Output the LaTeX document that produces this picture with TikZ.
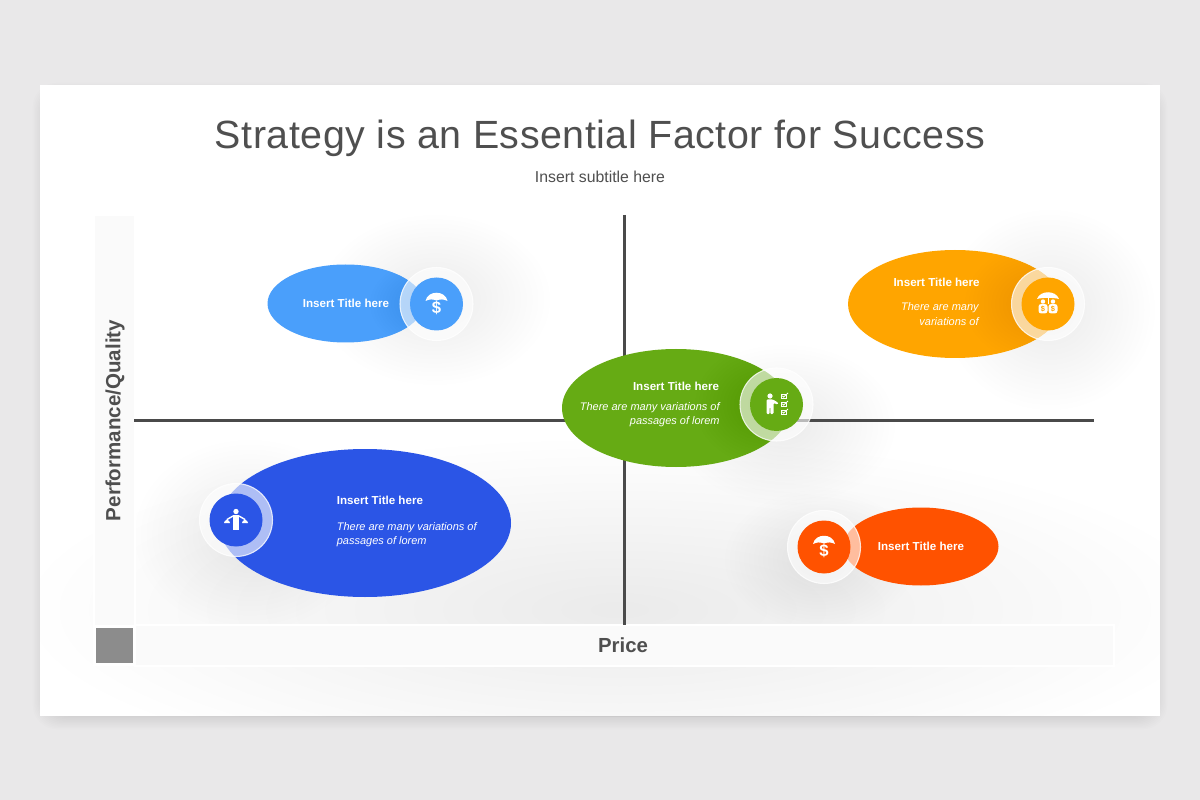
\documentclass[tikz,border=0pt]{standalone}
\usepackage{fontspec}
\setmainfont{Liberation Sans}
\newfontfamily\titlefont[LetterSpace=1.4]{Liberation Sans}
\definecolor{pagebg}{HTML}{E9E8E9}
\definecolor{ink}{HTML}{4F4F4F}
\definecolor{axisline}{HTML}{4A4A4A}
\definecolor{barfill}{HTML}{FAFAFA}
\definecolor{squarefill}{HTML}{8C8C8C}
\definecolor{cblue}{HTML}{4A9FFB}
\definecolor{corange}{HTML}{FFA500}
\definecolor{cgreen}{HTML}{66AB14}
\definecolor{croyal}{HTML}{2B55E6}
\definecolor{cred}{HTML}{FF5200}
\tikzset{
  x=0.02cm,y=-0.02cm,
  whitetext/.style={text=white,font=\fontsize{6.6}{9}\selectfont\bfseries,inner sep=0pt},
  italictext/.style={text=white,font=\fontsize{6.25}{8.1}\selectfont\itshape,inner sep=0pt},
  ringdisc/.style={fill=white,fill opacity=0.62,draw=white,line width=0.6pt,draw opacity=0.8},
  iconfill/.style={fill=white,draw=none},
}
% soft blurred patch built from stacked translucent ellipses
\newcommand{\softblob}[5]{%
  \foreach \k in {1,...,20}{%
    \pgfmathsetmacro{\rxx}{#3*\k/20}%
    \pgfmathsetmacro{\ryy}{#4*\k/20}%
    \fill[black,opacity=#5] (#1,#2) ellipse [x radius=\rxx, y radius=\ryy];
  }%
}
% soft rectangular shadow
\newcommand{\softrect}[6]{%
  \foreach \k in {0,...,15}{%
    \pgfmathsetmacro{\ee}{#5*(\k-7.5)/8}%
    \fill[black,opacity=#6,rounded corners=14pt] (#1-\ee,#2-\ee) rectangle (#3+\ee,#4+\ee);
  }%
}
\newcommand{\umbrella}[2]{%
  \fill[iconfill] (#1-11,#2-3) .. controls (#1-9,#2-14) and (#1+9,#2-14) .. (#1+11,#2-3)
     .. controls (#1+7,#2-5) and (#1+4,#2-5) .. (#1,#2-3.5)
     .. controls (#1-4,#2-5) and (#1-7,#2-5) .. (#1-11,#2-3) -- cycle;
}
\newcommand{\dollar}[2]{%
  \node[text=white,inner sep=0pt,font=\fontsize{9.5}{11}\selectfont\bfseries] at (#1,#2+4) {\$};
}
\begin{document}
\begin{tikzpicture}
\useasboundingbox (0,0) rectangle (1200,800);
\fill[pagebg] (0,0) rectangle (1200,800);
% panel shadow and panel
\softrect{42}{92}{1158}{720}{10}{0.007}
\fill[white] (40,85) rectangle (1160,716);
% soft shadows on the panel
\begin{scope}
  \clip (40,85) rectangle (1160,716);
  \softrect{94}{235}{1112}{668}{38}{0.0008}
  \softblob{620}{610}{590}{170}{0.002}
  \softblob{435}{300}{115}{85}{0.0032}
  \softblob{1050}{310}{105}{100}{0.0032}
  \softblob{785}{425}{110}{80}{0.0024}
  \softblob{250}{535}{115}{95}{0.0022}
  \softblob{820}{560}{95}{70}{0.0022}
\end{scope}
% axis bars
\fill[barfill,draw=white,line width=0.6pt] (94,215) rectangle (135,665);
\fill[barfill,draw=white,line width=0.6pt] (135,625) rectangle (1114,666);
\fill[white] (94,625) rectangle (135,666);
\fill[squarefill] (96,628) rectangle (133,663);
% axes
\coordinate (axT) at (624.5,215);
\coordinate (axB) at (624.5,625);
\coordinate (axL) at (134,420.8);
\coordinate (axR) at (1094,420.8);
\draw[axisline,line width=1.85pt] (axT) -- (axB);
\draw[axisline,line width=1.85pt] (axL) -- (axR);
% title
\node[text=ink,inner sep=0pt,font=\fontsize{22.4}{28}\titlefont] (title) at (600,138) {Strategy is an Essential Factor for Success};
\node[text=ink,inner sep=0pt,font=\fontsize{9}{11}\selectfont] (subtitle) at (600,177) {Insert subtitle here};
\node[text=ink,inner sep=0pt,font=\fontsize{11.6}{14}\selectfont\bfseries] (price) at (623,645.5) {Price};
\node[text=ink,inner sep=0pt,rotate=90,font=\fontsize{11.7}{14}\selectfont\bfseries] (perf) at (115,420.5) {Performance/Quality};
% light blue ellipse
\fill[cblue] (345.5,303.5) ellipse [x radius=78, y radius=39];
\begin{scope}
  \clip (345.5,303.5) ellipse [x radius=78, y radius=39];
  \softblob{430}{304}{60}{45}{0.002}
\end{scope}
\fill[ringdisc] (436.5,304) circle [radius=36.5];
\fill[cblue] (436.5,304) circle [radius=26.5];
\umbrella{436.5}{304}
\dollar{436.5}{304}
\node[whitetext] (t1) at (346,303.5) {Insert Title here};
% orange ellipse
\fill[corange] (955,304) ellipse [x radius=107, y radius=54];
\begin{scope}
  \clip (955,304) ellipse [x radius=107, y radius=54];
  \softblob{1040}{304}{75}{60}{0.003}
\end{scope}
\fill[ringdisc] (1048,304) circle [radius=36.5];
\fill[corange] (1048,304) circle [radius=26.5];
\fill[iconfill] (1037,299) .. controls (1040,290) and (1056,290) .. (1059,299)
   .. controls (1054,297.5) and (1042,297.5) .. (1037,299) -- cycle;
\fill[iconfill] (1047.6,296) rectangle (1048.4,304);
\fill[iconfill] (1043,301.5) circle [radius=2.2];
\fill[iconfill] (1053,301.5) circle [radius=2.2];
\fill[iconfill,rounded corners=1.5pt] (1038.5,304) rectangle (1047.5,313.5);
\fill[iconfill,rounded corners=1.5pt] (1048.5,304) rectangle (1057.5,313.5);
\node[text=corange,inner sep=0pt,font=\fontsize{4.2}{5}\selectfont\bfseries] at (1043,309) {\$};
\node[text=corange,inner sep=0pt,font=\fontsize{4.2}{5}\selectfont\bfseries] at (1053,309) {\$};
\node[whitetext,anchor=east] (t2) at (980,282) {Insert Title here};
\node[italictext,anchor=north east,align=right] (d2) at (979,302.5) {There are many\\variations of};
% green ellipse
\fill[cgreen] (676,408) ellipse [x radius=114, y radius=59];
\begin{scope}
  \clip (676,408) ellipse [x radius=114, y radius=59];
  \softblob{765}{405}{70}{60}{0.002}
\end{scope}
\fill[ringdisc] (776.5,404.5) circle [radius=36.5];
\fill[cgreen] (776.5,404.5) circle [radius=26.5];
\fill[iconfill] (770,396) circle [radius=2.6];
\fill[iconfill,rounded corners=0.6pt] (766.5,399.5) -- (773,399.5) -- (778.5,403) -- (777.5,404.5) -- (773.5,403) -- (773.5,414) -- (770.3,414) -- (770.3,407) -- (769.7,407) -- (769.7,414) -- (766.5,414) -- cycle;
\foreach \yy in {394,402,410}{%
  \draw[white,line width=0.45pt] (781,\yy) rectangle (786.5,\yy+4.5);
  \draw[white,line width=0.45pt] (782.3,\yy+1.8) -- (783.6,\yy+3.1) -- (788,\yy-1);
}
\node[whitetext,anchor=east] (t3) at (719.5,386) {Insert Title here};
\node[italictext,anchor=north east,align=right] (d3) at (720,402) {There are many variations of\\passages of lorem};
% royal blue ellipse
\fill[croyal] (365,523) ellipse [x radius=146, y radius=74];
\begin{scope}
  \clip (365,523) ellipse [x radius=146, y radius=74];
  \softblob{250}{520}{70}{70}{0.0012}
\end{scope}
\fill[ringdisc] (236,520) circle [radius=36.5];
\fill[croyal] (236,520) circle [radius=26.5];
\fill[iconfill] (236,511.5) circle [radius=2.7];
\fill[iconfill] (232.8,515) rectangle (239.2,530);
\draw[white,line width=0.8pt] (227,519.5) -- (233,516) (239,516) -- (245,519.5);
\draw[white,line width=0.4pt] (227,519.5) -- (225,523) (227,519.5) -- (229,523) (245,519.5) -- (243,523) (245,519.5) -- (247,523);
\fill[iconfill] (224,523) arc [start angle=180,end angle=360,radius=3] -- cycle;
\fill[iconfill] (242,523) arc [start angle=180,end angle=360,radius=3] -- cycle;
\node[whitetext,anchor=west] (t4) at (336.5,500) {Insert Title here};
\node[italictext,anchor=north west,align=left] (d4) at (336.5,522) {There are many variations of\\passages of lorem};
% red ellipse
\fill[cred] (921,546.5) ellipse [x radius=77.5, y radius=39];
\fill[ringdisc] (824,547) circle [radius=36.5];
\fill[cred] (824,547) circle [radius=26.5];
\umbrella{824}{547}
\dollar{824}{547}
\node[whitetext] (t5) at (921,546.5) {Insert Title here};
\end{tikzpicture}
\end{document}
